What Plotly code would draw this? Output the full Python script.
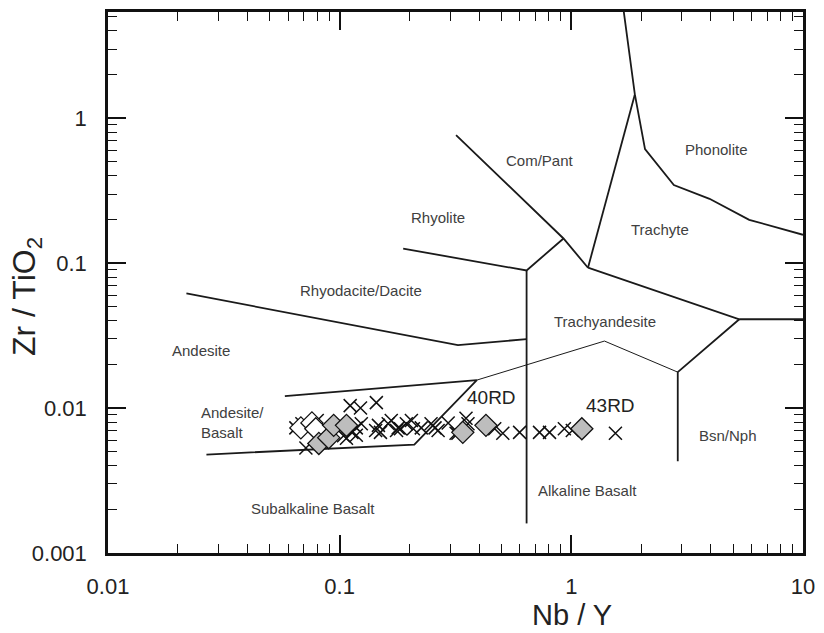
import math
import plotly.graph_objects as go

# ---- Winchester & Floyd (1977) field boundaries: Nb/Y vs Zr/TiO2 ----
bnd_andesite_rhyodacite = [(0.0218, 0.0618), (0.324, 0.0272), (0.641, 0.0299)]
bnd_subalk_alk = [(0.641, 0.089), (0.641, 0.0016)]
bnd_rhyolite = [(0.188, 0.126), (0.641, 0.089), (0.925, 0.148)]
bnd_compant = [(0.318, 0.764), (0.925, 0.148), (1.18, 0.093)]
bnd_trachyte_left = [(1.18, 0.093), (1.88, 1.46)]
bnd_phonolite = [(1.675, 5.8), (1.88, 1.46), (2.08, 0.612), (2.77, 0.346),
                 (3.95, 0.278), (5.86, 0.199), (10.0, 0.157)]
bnd_trachyandesite_top = [(1.18, 0.093), (5.31, 0.041), (10.0, 0.041)]
bnd_bsn_nph = [(5.31, 0.041), (2.88, 0.0177), (2.88, 0.0043)]
bnd_trachyandesite_low = [(0.391, 0.0156), (1.39, 0.029), (2.88, 0.0177)]
bnd_andesite_basalt = [(0.058, 0.0121), (0.391, 0.0156), (0.21, 0.0056), (0.0266, 0.00478)]

# ---- samples ----
cross_nby = [0.0647, 0.0687, 0.0715, 0.080, 0.104, 0.107, 0.111, 0.113, 0.118, 0.118,
             0.123, 0.124, 0.143, 0.144, 0.147, 0.150, 0.162, 0.167, 0.176, 0.179,
             0.183, 0.194, 0.204, 0.208, 0.225, 0.248, 0.258, 0.266, 0.294, 0.318,
             0.324, 0.351, 0.358, 0.467, 0.506, 0.598, 0.729, 0.805, 0.933, 1.01, 1.55]
cross_zrti = [0.0073, 0.0078, 0.0053, 0.0082, 0.00645, 0.0062, 0.0104, 0.0068, 0.0073, 0.0065,
              0.0100, 0.0078, 0.0070, 0.0109, 0.0076, 0.0068, 0.0078, 0.0082, 0.0070, 0.0073,
              0.0072, 0.0078, 0.0082, 0.0072, 0.0073, 0.0078, 0.0073, 0.0070, 0.0079, 0.0067,
              0.0067, 0.0085, 0.0078, 0.0072, 0.0067, 0.0068, 0.0068, 0.0068, 0.0072, 0.0070, 0.0067]

grey_nby = [0.0813, 0.0897, 0.0942, 0.107, 0.340, 0.428, 1.11]
grey_zrti = [0.0057, 0.00625, 0.0076, 0.0076, 0.0068, 0.0076, 0.0072]

white_nby = [0.068, 0.0759, 0.0789]
white_zrti = [0.0073, 0.0079, 0.0072]

# ---- field labels ----
field_names = ["Com/Pant", "Phonolite", "Rhyolite", "Trachyte", "Rhyodacite/Dacite",
               "Andesite", "Trachyandesite", "Andesite/<br>Basalt", "Subalkaline Basalt",
               "Alkaline Basalt", "Bsn/Nph"]
field_x = [0.73, 4.23, 0.266, 2.41, 0.124, 0.0251, 1.40, 0.0246, 0.0766, 1.18, 4.76]
field_y = [0.514, 0.612, 0.206, 0.170, 0.0649, 0.0251, 0.0397, 0.00793, 0.00204, 0.0027, 0.00645]
field_anchor = ["center"] * 7 + ["left"] + ["center"] * 3

sample_names = ["40RD", "43RD"]
sample_x = [0.454, 1.47]
sample_y = [0.01178, 0.01037]

FONT = "Liberation Sans, Arial"

fig = go.Figure()

boundaries = [bnd_andesite_rhyodacite, bnd_subalk_alk, bnd_rhyolite, bnd_compant,
              bnd_trachyte_left, bnd_phonolite, bnd_trachyandesite_top, bnd_bsn_nph,
              bnd_andesite_basalt]
for b in boundaries:
    fig.add_trace(go.Scatter(x=[p[0] for p in b], y=[p[1] for p in b], mode="lines",
                             line=dict(color="#1a1a1a", width=1.8), hoverinfo="skip",
                             showlegend=False))
fig.add_trace(go.Scatter(x=[p[0] for p in bnd_trachyandesite_low],
                         y=[p[1] for p in bnd_trachyandesite_low], mode="lines",
                         line=dict(color="#1a1a1a", width=1.0), hoverinfo="skip",
                         showlegend=False))

fig.add_trace(go.Scatter(x=cross_nby, y=cross_zrti, mode="markers", showlegend=False,
                         marker=dict(symbol="x-thin", size=13,
                                     line=dict(color="#111111", width=1.5))))
fig.add_trace(go.Scatter(x=white_nby, y=white_zrti, mode="markers", showlegend=False,
                         marker=dict(symbol="diamond", size=17, color="white",
                                     line=dict(color="#111111", width=1.3))))
fig.add_trace(go.Scatter(x=grey_nby, y=grey_zrti, mode="markers", showlegend=False,
                         marker=dict(symbol="diamond", size=17, color="#bdbdbd",
                                     line=dict(color="#111111", width=1.3))))

# annotations on log axes are placed in log10 units
for name, x, y, a in zip(field_names, field_x, field_y, field_anchor):
    fig.add_annotation(x=math.log10(x), y=math.log10(y), xref="x", yref="y", text=name,
                       showarrow=False, xanchor=a, align="left",
                       font=dict(family=FONT, size=15, color="#404040"))
for name, x, y in zip(sample_names, sample_x, sample_y):
    fig.add_annotation(x=math.log10(x), y=math.log10(y), xref="x", yref="y", text=name,
                       showarrow=False, font=dict(family=FONT, size=19, color="#222222"))

# axis titles
fig.add_annotation(x=0.667, y=-0.114, xref="paper", yref="paper", text="Nb / Y",
                   showarrow=False, xanchor="center", yanchor="middle",
                   font=dict(family=FONT, size=29, color="#222222"))
fig.add_annotation(x=-0.118, y=0.475, xref="paper", yref="paper", text="Zr / TiO<sub>2</sub>",
                   showarrow=False, textangle=-90, xanchor="center", yanchor="middle",
                   font=dict(family=FONT, size=32, color="#222222"))

axis_common = dict(
    type="log", showgrid=False, zeroline=False,
    showline=True, linecolor="#111111", linewidth=2.5, mirror="ticks",
    ticks="inside", ticklen=18, tickwidth=1.6, tickcolor="#111111",
    tickfont=dict(family=FONT, size=22, color="#222222"),
    minor=dict(ticks="inside", ticklen=9, tickwidth=1.4, tickcolor="#111111",
               dtick="D1", showgrid=False),
)

fig.update_xaxes(**axis_common, range=[-2, 1], tickvals=[0.01, 0.1, 1, 10],
                 ticktext=["0.01", "0.1", "1", "10"], ticklabelstandoff=12)
fig.update_yaxes(**axis_common, range=[-3, 0.733], tickvals=[0.001, 0.01, 0.1, 1],
                 ticktext=["0.001", "0.01", "0.1", "1"], ticklabelstandoff=14)

fig.update_layout(width=824, height=633, margin=dict(l=108, r=17, t=9, b=80),
                  plot_bgcolor="white", paper_bgcolor="white")

fig.write_html("out.html")
